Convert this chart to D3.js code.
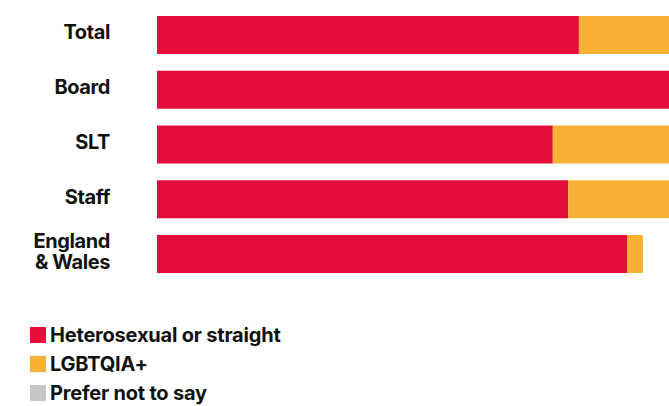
<!DOCTYPE html>
<html>
<head>
<meta charset="utf-8">
<script src="https://cdn.jsdelivr.net/npm/d3@7"></script>
<style>
  html, body { margin: 0; padding: 0; background: #fff; }
  svg text { font-family: Inter, "Noto Sans", sans-serif; font-weight: 700; fill: #111; }
</style>
</head>
<body>
<svg id="chart" width="669" height="406"></svg>
<script>
// Sexual orientation breakdown by group (percent of respondents)
const groups = ["Total", "Board", "SLT", "Staff", "England\n& Wales"];
const heterosexual = [82.4, 100, 77.3, 80.3, 91.8];
const lgbtqia = [17.6, 0, 22.7, 19.7, 3.1];
const preferNot = [0, 0, 0, 0, 0];

const seriesNames = ["Heterosexual or straight", "LGBTQIA+", "Prefer not to say"];
const seriesColors = ["#e30c3b", "#f8b134", "#c6c6c6"];

const rows = groups.map((g, i) => ({
  group: g,
  "Heterosexual or straight": heterosexual[i],
  "LGBTQIA+": lgbtqia[i],
  "Prefer not to say": preferNot[i]
}));

const svg = d3.select("#chart");
const x = d3.scaleLinear().domain([0, 100]).range([157, 669]);
const y = d3.scaleBand().domain(groups).range([16, 273]).paddingInner(0.306).paddingOuter(0);
const color = d3.scaleOrdinal().domain(seriesNames).range(seriesColors);

const stacked = d3.stack().keys(seriesNames)(rows);

svg.append("g").selectAll("g")
  .data(stacked).join("g")
  .attr("fill", d => color(d.key))
  .selectAll("rect")
  .data(d => d).join("rect")
  .attr("x", d => x(d[0]))
  .attr("y", d => y(d.data.group))
  .attr("width", d => x(d[1]) - x(d[0]))
  .attr("height", y.bandwidth());

// Category labels, right-aligned left of the bars
const labels = svg.append("g").selectAll("text")
  .data(groups).join("text")
  .attr("text-anchor", "end")
  .attr("x", 110)
  .style("font-size", "20px")
  .style("letter-spacing", "-0.4px");

labels.each(function(g) {
  const lines = g.split("\n");
  const cy = y(g) + y.bandwidth() / 2;
  const lh = 21;
  const first = cy + 4.5 - (lines.length - 1) * lh / 2;
  d3.select(this).selectAll("tspan")
    .data(lines).join("tspan")
    .attr("x", 110)
    .attr("y", (d, i) => first + i * lh)
    .text(d => d);
});

// Legend
const legend = svg.append("g").selectAll("g")
  .data(seriesNames).join("g")
  .attr("transform", (d, i) => `translate(30, ${327 + i * 29})`);
legend.append("rect")
  .attr("width", 16).attr("height", 16)
  .attr("fill", d => color(d));
legend.append("text")
  .attr("x", 20).attr("y", 15)
  .style("font-size", "20px")
  .style("letter-spacing", "-0.2px")
  .text(d => d);
</script>
</body>
</html>
